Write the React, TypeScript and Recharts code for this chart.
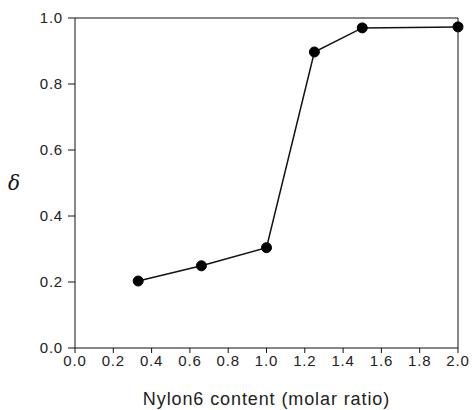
import { Line, LineChart, ReferenceLine, XAxis, YAxis } from "recharts";

const nylonContent = [0.33, 0.66, 1.0, 1.25, 1.5, 2.0];
const delta = [0.203, 0.249, 0.304, 0.897, 0.97, 0.973];
const xTicks = [0, 0.2, 0.4, 0.6, 0.8, 1.0, 1.2, 1.4, 1.6, 1.8, 2.0];
const yTicks = [0, 0.2, 0.4, 0.6, 0.8, 1.0];

const data = nylonContent.map((x, i) => ({ x, delta: delta[i] }));

const font = "Liberation Sans, Arial, sans-serif";
const tickStyle = { fontFamily: font, fontSize: 15, fill: "#222", letterSpacing: 0.8 };

export default function App() {
  return (
    <div style={{ position: "absolute", left: 0, top: 0, background: "#fff" }}>
      <LineChart width={474} height={410} data={data} margin={{ top: 18, right: 16, left: 0, bottom: 0 }}>
        <XAxis
          type="number"
          dataKey="x"
          domain={[0, 2]}
          ticks={xTicks}
          tickFormatter={(v) => Number(v).toFixed(1)}
          height={62}
          stroke="#111"
          tickSize={5}
          tick={tickStyle}
          label={{
            value: "Nylon6 content (molar ratio)",
            position: "insideBottom",
            offset: 5,
            style: { fontFamily: font, fontSize: 18, fill: "#222", letterSpacing: 0.9 },
          }}
        />
        <YAxis
          type="number"
          domain={[0, 1]}
          ticks={yTicks}
          tickFormatter={(v) => Number(v).toFixed(1)}
          width={75}
          stroke="#111"
          tickSize={7}
          tick={{ ...tickStyle, dx: -3 }}
          label={{
            value: "δ",
            position: "insideLeft",
            offset: 8,
            style: { fontFamily: "DejaVu Serif, serif", fontStyle: "italic", fontSize: 20, fill: "#111" },
          }}
        />
        <ReferenceLine y={1} stroke="#111" />
        <ReferenceLine x={2} stroke="#111" />
        <Line
          dataKey="delta"
          stroke="#111"
          strokeWidth={1.5}
          dot={{ r: 5, fill: "#000", stroke: "#000", strokeWidth: 1 }}
          isAnimationActive={false}
        />
      </LineChart>
    </div>
  );
}
